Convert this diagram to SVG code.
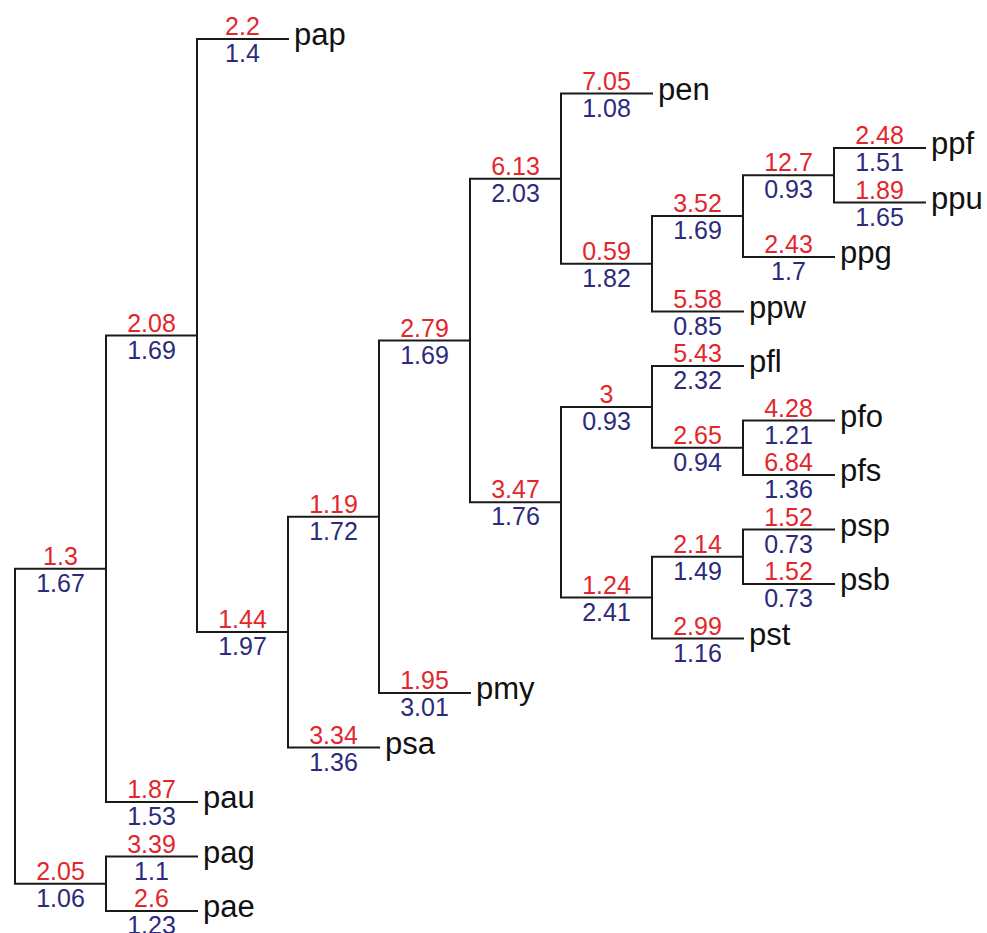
<svg xmlns="http://www.w3.org/2000/svg" width="987" height="933" viewBox="0 0 987 933">
<style>
.e{fill:none;stroke:#1a1a1a;stroke-width:2;stroke-linecap:square}
.r{font-family:"Liberation Sans",Arial,sans-serif;font-size:25px;fill:#e3262b;text-anchor:middle}
.b{font-family:"Liberation Sans",Arial,sans-serif;font-size:25px;fill:#2c2a7c;text-anchor:middle}
.n{font-family:"Liberation Sans",Arial,sans-serif;font-size:31px;fill:#111}
</style>
<rect width="987" height="933" fill="#fff"/>
<g id="connectors">
<path class="e" d="M106,568.8H15V883.75H106"/>
<path class="e" d="M197,335.6H106V802H197"/>
<path class="e" d="M197,856.5H106V911H197"/>
<path class="e" d="M288,39H197V632.1H288"/>
<path class="e" d="M379,516.7H288V747.5H379"/>
<path class="e" d="M470,340.5H379V693H470"/>
<path class="e" d="M561,178.7H470V502.3H561"/>
<path class="e" d="M652,93.5H561V263.8H652"/>
<path class="e" d="M743,216.1H652V311.5H743"/>
<path class="e" d="M834,175.25H743V257H834"/>
<path class="e" d="M925,148H834V202.5H925"/>
<path class="e" d="M652,406.9H561V597.6H652"/>
<path class="e" d="M743,366H652V447.75H743"/>
<path class="e" d="M834,420.5H743V475H834"/>
<path class="e" d="M743,556.75H652V638.5H743"/>
<path class="e" d="M834,529.5H743V584H834"/>
</g>
<g id="n_1_3"><text class="r" x="60.5" y="564.8">1.3</text><text class="b" x="60.5" y="591.8">1.67</text></g>
<g id="n_2_05"><text class="r" x="60.5" y="879.75">2.05</text><text class="b" x="60.5" y="906.75">1.06</text></g>
<g id="n_2_08"><text class="r" x="151.5" y="331.6">2.08</text><text class="b" x="151.5" y="358.6">1.69</text></g>
<g id="pau"><text class="r" x="151.5" y="798">1.87</text><text class="b" x="151.5" y="825">1.53</text><text class="n" x="203" y="808">pau</text></g>
<g id="pag"><text class="r" x="151.5" y="852.5">3.39</text><text class="b" x="151.5" y="879.5">1.1</text><text class="n" x="203" y="862.5">pag</text></g>
<g id="pae"><text class="r" x="151.5" y="907">2.6</text><text class="b" x="151.5" y="934">1.23</text><text class="n" x="203" y="917">pae</text></g>
<g id="pap"><text class="r" x="242.5" y="35">2.2</text><text class="b" x="242.5" y="62">1.4</text><text class="n" x="294" y="45">pap</text></g>
<g id="n_1_44"><text class="r" x="242.5" y="628.1">1.44</text><text class="b" x="242.5" y="655.1">1.97</text></g>
<g id="n_1_19"><text class="r" x="333.5" y="512.7">1.19</text><text class="b" x="333.5" y="539.7">1.72</text></g>
<g id="psa"><text class="r" x="333.5" y="743.5">3.34</text><text class="b" x="333.5" y="770.5">1.36</text><text class="n" x="385" y="753.5">psa</text></g>
<g id="n_2_79"><text class="r" x="424.5" y="336.5">2.79</text><text class="b" x="424.5" y="363.5">1.69</text></g>
<g id="pmy"><text class="r" x="424.5" y="689">1.95</text><text class="b" x="424.5" y="716">3.01</text><text class="n" x="476" y="699">pmy</text></g>
<g id="n_6_13"><text class="r" x="515.5" y="174.7">6.13</text><text class="b" x="515.5" y="201.7">2.03</text></g>
<g id="n_3_47"><text class="r" x="515.5" y="498.3">3.47</text><text class="b" x="515.5" y="525.3">1.76</text></g>
<g id="pen"><text class="r" x="606.5" y="89.5">7.05</text><text class="b" x="606.5" y="116.5">1.08</text><text class="n" x="658" y="99.5">pen</text></g>
<g id="n_0_59"><text class="r" x="606.5" y="259.8">0.59</text><text class="b" x="606.5" y="286.8">1.82</text></g>
<g id="n_3_52"><text class="r" x="697.5" y="212.1">3.52</text><text class="b" x="697.5" y="239.1">1.69</text></g>
<g id="ppw"><text class="r" x="697.5" y="307.5">5.58</text><text class="b" x="697.5" y="334.5">0.85</text><text class="n" x="749" y="317.5">ppw</text></g>
<g id="n_12_7"><text class="r" x="788.5" y="171.25">12.7</text><text class="b" x="788.5" y="198.25">0.93</text></g>
<g id="ppg"><text class="r" x="788.5" y="253">2.43</text><text class="b" x="788.5" y="280">1.7</text><text class="n" x="840" y="263">ppg</text></g>
<g id="ppf"><text class="r" x="879.5" y="144">2.48</text><text class="b" x="879.5" y="171">1.51</text><text class="n" x="931" y="154">ppf</text></g>
<g id="ppu"><text class="r" x="879.5" y="198.5">1.89</text><text class="b" x="879.5" y="225.5">1.65</text><text class="n" x="931" y="208.5">ppu</text></g>
<g id="n_3"><text class="r" x="606.5" y="402.9">3</text><text class="b" x="606.5" y="429.9">0.93</text></g>
<g id="n_1_24"><text class="r" x="606.5" y="593.6">1.24</text><text class="b" x="606.5" y="620.6">2.41</text></g>
<g id="pfl"><text class="r" x="697.5" y="362">5.43</text><text class="b" x="697.5" y="389">2.32</text><text class="n" x="749" y="372">pfl</text></g>
<g id="n_2_65"><text class="r" x="697.5" y="443.75">2.65</text><text class="b" x="697.5" y="470.75">0.94</text></g>
<g id="pfo"><text class="r" x="788.5" y="416.5">4.28</text><text class="b" x="788.5" y="443.5">1.21</text><text class="n" x="840" y="426.5">pfo</text></g>
<g id="pfs"><text class="r" x="788.5" y="471">6.84</text><text class="b" x="788.5" y="498">1.36</text><text class="n" x="840" y="481">pfs</text></g>
<g id="n_2_14"><text class="r" x="697.5" y="552.75">2.14</text><text class="b" x="697.5" y="579.75">1.49</text></g>
<g id="pst"><text class="r" x="697.5" y="634.5">2.99</text><text class="b" x="697.5" y="661.5">1.16</text><text class="n" x="749" y="644.5">pst</text></g>
<g id="psp"><text class="r" x="788.5" y="525.5">1.52</text><text class="b" x="788.5" y="552.5">0.73</text><text class="n" x="840" y="535.5">psp</text></g>
<g id="psb"><text class="r" x="788.5" y="580">1.52</text><text class="b" x="788.5" y="607">0.73</text><text class="n" x="840" y="590">psb</text></g>
</svg>
